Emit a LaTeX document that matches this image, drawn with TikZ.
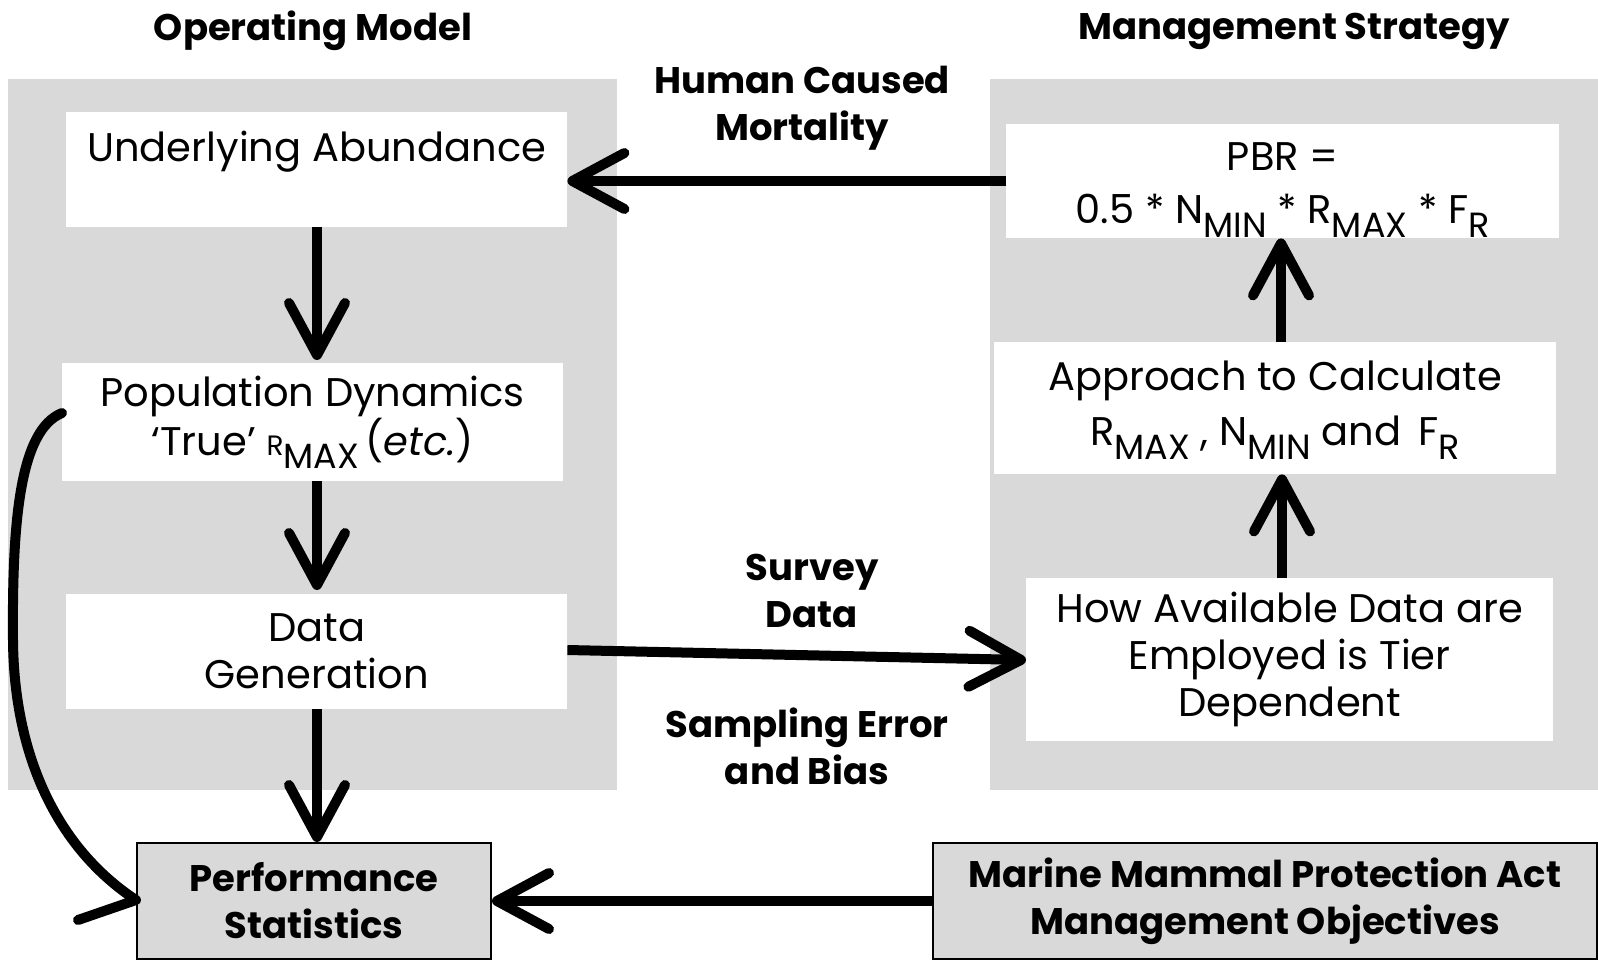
\documentclass[tikz,border=0pt]{standalone}
\usepackage{fontspec}
\setmainfont{Poppins}
\usetikzlibrary{arrows.meta}
\definecolor{panel}{HTML}{D9D9D9}
% lowered, slightly smaller subscript text
\newcommand{\sbs}[1]{\raisebox{-0.34em}{\fontsize{35}{35}\selectfont #1}}
\tikzset{
  panelbox/.style={fill=panel, draw=none},
  whitebox/.style={fill=white, draw=none, align=center, inner sep=0pt,
    font=\fontsize{40}{47}\selectfont, anchor=north west},
  graybox/.style={fill=panel, draw=black, line width=2pt, align=center, inner sep=0pt,
    font=\fontsize{37}{47}\selectfont\bfseries, anchor=north west},
  heading/.style={font=\fontsize{37}{47}\selectfont\bfseries, align=center},
  flow/.style={line width=10pt,
    -{Straight Barb[length=52pt, width=56pt, round]}},
  barb/.style={line width=10pt, line cap=round},
}
\begin{document}
\begin{tikzpicture}[x=1pt,y=-1pt]
\useasboundingbox (0,0) rectangle (1598,959);
\fill[white] (0,0) rectangle (1598,959);

% grey panels behind the two columns
\fill[panelbox] (8,79) rectangle (617,790);
\fill[panelbox] (990,79) rectangle (1598,790);

% column headings
\node[heading] (hop) at (313,31) {Operating Model};
\node[heading] (hms) at (1294,31) {Management Strategy};

% operating model boxes
\node[whitebox, minimum width=501pt, minimum height=115pt] (ua) at (66,112)
  {Underlying Abundance\\ \mbox{}};
\node[whitebox, minimum width=501pt, minimum height=118pt] (pd) at (62,363)
  {Population Dynamics\\ `True' {\fontsize{28}{28}\selectfont R}\sbs{MAX}\,(\textit{etc.})};
\node[whitebox, minimum width=501pt, minimum height=115pt] (dg) at (66,594)
  {Data\\ Generation};

% management strategy boxes
\node[whitebox, minimum width=553pt, minimum height=114pt] (pbr) at (1006,124)
  {\rule{0pt}{46pt}PBR =\\[6pt] 0.5 * N\sbs{MIN} * R\sbs{MAX} * F\sbs{R}};
\node[whitebox, minimum width=562pt, minimum height=132pt] (app) at (994,342)
  {\rule{0pt}{34pt}Approach to Calculate\\[8pt] R\sbs{MAX} , N\sbs{MIN} and\, F\sbs{R}};
\node[whitebox, minimum width=527pt, minimum height=163pt] (how) at (1026,578)
  {How Available Data are\\ Employed is Tier\\ Dependent};

% bottom boxes
\node[graybox, minimum width=354pt, minimum height=116pt] (perf) at (136,842)
  {Performance\\ Statistics};
\node[graybox, minimum width=664pt, minimum height=116pt] (mmpa) at (932,842)
  {Marine Mammal Protection Act\\ Management Objectives};

% connector labels
\node[heading] (lhum) at (802,108) {Human Caused\\ Mortality};
\node[heading] (lsur) at (812,591) {Survey\\ Data};
\node[heading] (lsam) at (807,746) {Sampling Error\\ and Bias};

% connectors
\draw[flow] (pbr.west |- 0,181) -- (ua.east |- 0,181);
\draw[flow] (317,227) -- (317,360);
\draw[flow] (317,481) -- (317,590);
\draw[flow] (317,709) -- (perf.north -| 317,0);
\draw[flow] (dg.east |- 0,650) -- (how.west |- 0,660);
\draw[flow] (how.north -| 1282,0) -- (app.south -| 1282,0);
\draw[flow] (app.north -| 1281,0) -- (pbr.south -| 1281,0);
\draw[flow] (mmpa.west) -- (perf.east);

% feedback from population dynamics to performance statistics
\coordinate (ptip) at (perf.west |- 0,900);
\draw[barb, line join=round] (pd.west |- 0,413) .. controls (20,430) and (12,520) .. (13,640)
  .. controls (14,760) and (60,850) .. (ptip) -- ++(-58,20);
\end{tikzpicture}
\end{document}
